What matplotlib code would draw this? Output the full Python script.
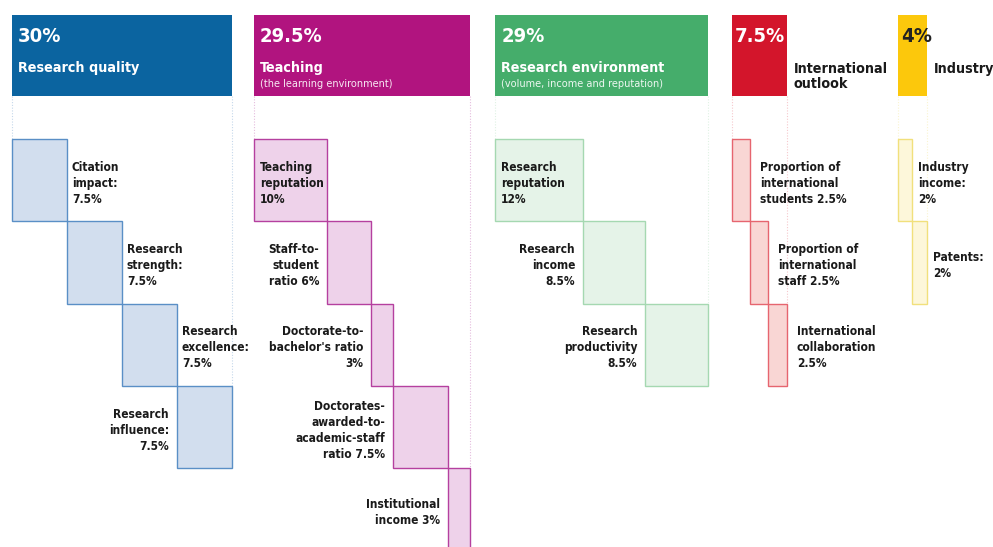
import matplotlib.pyplot as plt
from matplotlib.patches import Rectangle

# pillar weights (percent of overall score)
groups = ["Research quality", "Teaching", "Research environment",
          "International\noutlook", "Industry"]
group_weights = [30, 29.5, 29, 7.5, 4]
group_subtitles = ["", "(the learning environment)",
                   "(volume, income and reputation)", "", ""]

# sub-metrics, label text gets the weight put in at {}
metric_labels = [
    ["Citation\nimpact:\n{}", "Research\nstrength:\n{}",
     "Research\nexcellence:\n{}", "Research\ninfluence:\n{}"],
    ["Teaching\nreputation\n{}", "Staff-to-\nstudent\nratio {}",
     "Doctorate-to-\nbachelor's ratio\n{}",
     "Doctorates-\nawarded-to-\nacademic-staff\nratio {}",
     "Institutional\nincome {}"],
    ["Research\nreputation\n{}", "Research\nincome\n{}",
     "Research\nproductivity\n{}"],
    ["Proportion of\ninternational\nstudents {}",
     "Proportion of\ninternational\nstaff {}",
     "International\ncollaboration\n{}"],
    ["Industry\nincome:\n{}", "Patents:\n{}"],
]
metric_weights = [
    [7.5, 7.5, 7.5, 7.5],
    [10, 6, 3, 7.5, 3],
    [12, 8.5, 8.5],
    [2.5, 2.5, 2.5],
    [2, 2],
]

# where each label sits: r = right of box, l = left of box, i = inside
label_side = [
    ["r", "r", "r", "l"],
    ["i", "l", "l", "l", "l"],
    ["i", "l", "l"],
    ["r", "r", "r"],
    ["r", "r"],
]

header_colors = ["#0b64a0", "#b1147f", "#45ad6b", "#d3152b", "#fcc80c"]
fill_colors = ["#d2deee", "#eed2ea", "#e5f3e8", "#f9d6d4", "#fdf7da"]
edge_colors = ["#5a8fc6", "#b5409f", "#a5d8b1", "#e6656f", "#f1e07c"]
pct_colors = ["white", "white", "white", "white", "#222222"]
label_gap = [5, 7, 7, 10, 6]

plt.rcParams['font.family'] = ['DejaVu Sans']
plt.rcParams['font.stretch'] = 'condensed'

PX = 7.33          # pixels per percentage point
left = 12
gaps = [22, 25, 24, 111]
head_top, head_bot = 15, 96
row_top, row_h = 139, 82.3

fig = plt.figure(figsize=(9.93, 5.47), dpi=100)
ax = fig.add_axes([0, 0, 1, 1])
ax.set_xlim(0, 993)
ax.set_ylim(547, 0)
ax.axis('off')

x0 = left
for g, name in enumerate(groups):
    gw = group_weights[g] * PX
    hc = header_colors[g]

    # header block
    ax.add_patch(Rectangle((x0, head_top), gw, head_bot - head_top,
                           facecolor=hc, edgecolor='none'))
    pad = 6 if gw > 100 else 3
    ax.text(x0 + pad, 27, f"{group_weights[g]:g}%", color=pct_colors[g],
            fontsize=14.5, fontweight='bold', va='top', ha='left')
    if gw > 100:
        ax.text(x0 + pad, 61, name, color='white', fontsize=10.3,
                fontweight='bold', va='top', ha='left')
        if group_subtitles[g]:
            ax.text(x0 + pad, 79, group_subtitles[g], color='white',
                    fontsize=7.8, va='top', ha='left', alpha=0.9)
    else:
        ax.text(x0 + gw + 7, 62, name, color='#1a1a1a', fontsize=10.3,
                fontweight='bold', va='top', ha='left', linespacing=1.05)

    # staircase of sub-metric boxes
    n = len(metric_weights[g])
    bx = x0
    for k, w in enumerate(metric_weights[g]):
        bw = w * PX
        by = row_top + k * row_h
        ax.add_patch(Rectangle((bx, by), bw, row_h, facecolor=fill_colors[g],
                               edgecolor=edge_colors[g], linewidth=1.0))
        txt = metric_labels[g][k].format(f"{w:g}%")
        side = label_side[g][k]
        cy = by + row_h / 2 + 3
        if side == "r":
            ax.text(bx + bw + label_gap[g], cy, txt, ha='left', va='center',
                    fontsize=8.6, fontweight='bold', color='#1a1a1a',
                    linespacing=1.3)
        elif side == "l":
            ax.text(bx - 8, cy, txt, ha='right', va='center', multialignment='right',
                    fontsize=8.6, fontweight='bold', color='#1a1a1a',
                    linespacing=1.3)
        else:
            ax.text(bx + 6, cy, txt, ha='left', va='center',
                    fontsize=8.6, fontweight='bold', color='#1a1a1a',
                    linespacing=1.3)
        bx += bw

    # faint guide lines below the header
    ax.plot([x0, x0], [head_bot, row_top], color=edge_colors[g], alpha=0.35,
            lw=0.8, ls=(0, (1, 1.5)))
    ax.plot([x0 + gw, x0 + gw], [head_bot, row_top + (n - 1) * row_h],
            color=edge_colors[g], alpha=0.35, lw=0.8, ls=(0, (1, 1.5)))

    if g < len(gaps):
        x0 += gw + gaps[g]

fig.savefig("out.png", dpi=100, facecolor='white')
